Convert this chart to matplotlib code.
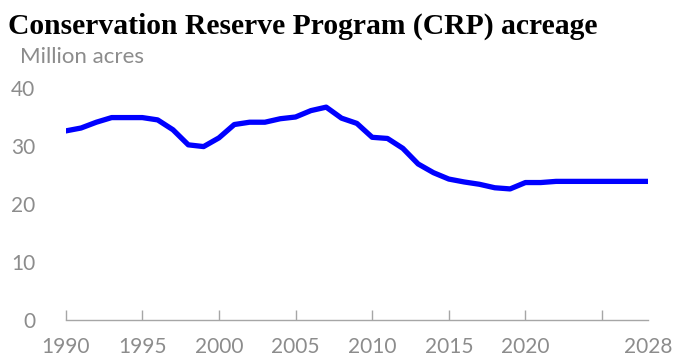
import matplotlib.pyplot as plt

years = list(range(1990, 2029))
acres = [32.6, 33.1, 34.1, 34.9, 34.9, 34.9, 34.5, 32.8, 30.2, 29.9,
         31.4, 33.7, 34.1, 34.1, 34.7, 35.0, 36.1, 36.7, 34.8, 33.9,
         31.5, 31.3, 29.6, 26.9, 25.4, 24.3, 23.8, 23.4, 22.8, 22.6,
         23.7, 23.7, 23.9, 23.9, 23.9, 23.9, 23.9, 23.9, 23.9]
tick_years = [1990, 1995, 2000, 2005, 2010, 2015, 2020, 2028]
mark_years = [1990, 1995, 2000, 2005, 2010, 2015, 2020, 2025]
y_ticks = [0, 10, 20, 30, 40]

GRAY = '#8c8c8c'
plt.rcParams['font.family'] = ['Lato', 'DejaVu Sans']

fig = plt.figure(figsize=(6.76, 3.62), dpi=100)
ax = fig.add_axes([65.7 / 676, 42 / 362, (648 - 65.7) / 676, 232 / 362])

ax.plot(years, acres, color='#0000ff', linewidth=3.8, solid_joinstyle='round')

ax.set_xlim(1990, 2028)
ax.set_ylim(0, 40)

# keep the minor tick marks where labels sit too
ax.xaxis.remove_overlapping_locs = False
ax.set_xticks(tick_years)
ax.set_xticklabels([str(y) for y in tick_years])
ax.set_xticks(mark_years, minor=True)
ax.tick_params(axis='x', which='major', length=0, pad=12, labelsize=15, labelcolor=GRAY)
ax.tick_params(axis='x', which='minor', direction='in', length=7, width=1, color='#a6a6a6')

ax.set_yticks(y_ticks)
ax.tick_params(axis='y', length=0, pad=22, labelsize=15, labelcolor=GRAY)

for side in ['top', 'right', 'left']:
    ax.spines[side].set_visible(False)
ax.spines['bottom'].set_color('#a6a6a6')
ax.spines['bottom'].set_linewidth(1)

fig.text(8 / 676, 1 - 26 / 362, 'Conservation Reserve Program (CRP) acreage',
         family='Liberation Serif', weight='bold', fontsize=21.3, va='center', ha='left')
fig.text(20 / 676, 1 - 57 / 362, 'Million acres', fontsize=16, color=GRAY,
         va='center', ha='left')

fig.savefig('out.png', dpi=100)
